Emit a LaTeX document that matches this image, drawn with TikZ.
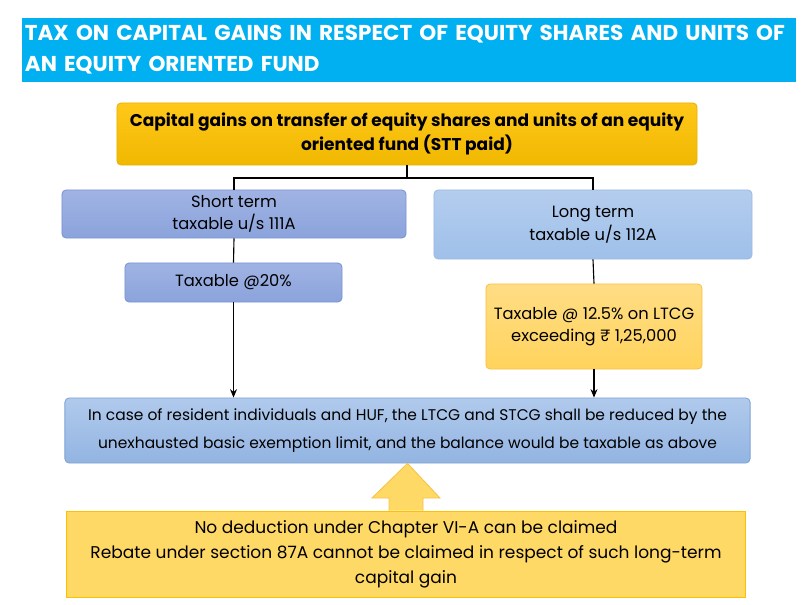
\documentclass[tikz,border=0pt]{standalone}
\usepackage{fontspec}
\setmainfont{Poppins}
\usetikzlibrary{arrows.meta}

\definecolor{banner}{HTML}{00B0F0}
\definecolor{goldtop}{HTML}{FFC81A}
\definecolor{goldbot}{HTML}{F0B800}
\definecolor{goldline}{HTML}{E9B200}
\definecolor{stblue}{HTML}{A0B3E3}
\definecolor{stbluebot}{HTML}{8BA3DC}
\definecolor{stline}{HTML}{7A93D2}
\definecolor{ltblue}{HTML}{B4CDEE}
\definecolor{ltbluebot}{HTML}{9FC0EA}
\definecolor{ltline}{HTML}{9BBBE4}
\definecolor{lightgold}{HTML}{FFDD85}
\definecolor{lightgoldbot}{HTML}{FFD35C}
\definecolor{lightgoldline}{HTML}{F7C244}
\definecolor{infotop}{HTML}{B0CAEC}
\definecolor{infobot}{HTML}{93B4E2}
\definecolor{infoline}{HTML}{7FA3D6}
\definecolor{notefill}{HTML}{FFD966}
\definecolor{noteline}{HTML}{FFC000}

\begin{document}
\begin{tikzpicture}[x=0.025cm, y=-0.025cm,
    every node/.style={font=\fontsize{11.6}{16}\selectfont, align=center, inner sep=0pt},
    box/.style={draw, rounded corners=3pt, line width=0.6pt},
    gold/.style={box, top color=goldtop, bottom color=goldbot, draw=goldline},
    stbox/.style={box, top color=stblue, bottom color=stbluebot, draw=stline},
    ltbox/.style={box, top color=ltblue, bottom color=ltbluebot, draw=ltline},
    lgold/.style={box, top color=lightgold, bottom color=lightgoldbot, draw=lightgoldline},
    info/.style={box, top color=infotop, bottom color=infobot, draw=infoline},
    link/.style={line width=0.8pt},
    arr/.style={link, -{Stealth[length=6pt,width=5pt]}}]
    \useasboundingbox[fill=white] (0,0) rectangle (812,605);

    \node (title) at (409,50) [fill=banner, minimum width=19.35cm, minimum height=1.6cm,
        text width=19.2cm, align=left, text=white,
        font=\fontsize{15.3}{22}\selectfont\bfseries]
        {TAX ON CAPITAL GAINS IN RESPECT OF EQUITY SHARES AND UNITS OF\\AN EQUITY ORIENTED FUND};

    \node (cg) at (407,134) [gold, minimum width=14.5cm, minimum height=1.55cm,
        font=\fontsize{12.1}{16.5}\selectfont\bfseries]
        {Capital gains on transfer of equity shares and units of an equity\\oriented fund (STT paid)};

    \node (st) at (234,214) [stbox, minimum width=8.6cm, minimum height=1.2cm]
        {Short term\\taxable u/s 111A};
    \node (lt) at (593,224.5) [ltbox, minimum width=7.95cm, minimum height=1.725cm]
        {Long term\\taxable u/s 112A};

    \node (st20) at (233.5,282.5) [stbox, minimum width=5.425cm, minimum height=0.975cm]
        {Taxable @20\%};
    \node (ltcg) at (594,326.5) [lgold, minimum width=5.4cm, minimum height=2.125cm]
        {Taxable @ 12.5\% on LTCG\\exceeding ₹ 1,25,000};

    \node (res) at (407.5,430.5) [info, minimum width=17.125cm, minimum height=1.625cm,
        font=\fontsize{11}{20}\selectfont]
        {In case of resident individuals and HUF, the LTCG and STCG shall be reduced by the\\unexhausted basic exemption limit, and the balance would be taxable as above};

    \node (note) at (406,554) [fill=notefill, draw=noteline, line width=0.6pt,
        minimum width=16.95cm, minimum height=2.15cm, font=\fontsize{12.1}{17.7}\selectfont]
        {No deduction under Chapter VI-A can be claimed\\Rebate under section 87A cannot be claimed in respect of such long-term\\capital gain};

    \coordinate (split) at (407,178);
    \draw[link] (cg.south) -- (split) -| (st.north);
    \draw[link] (split) -| (lt.north);
    \draw[link] (st.south) -- (st20.north);
    \draw[link] (lt.south) -- (ltcg.north);

    \draw[arr] (st20.south) -- (st20.south |- res.north);
    \draw[arr] (ltcg.south) -- (ltcg.south |- res.north);

    % block arrow from note up to res
    \draw[fill=notefill, draw=lightgoldline, line width=0.6pt]
        (note.north -| 389,0) -- (389,498) -- (372,498) -- (res.south)
        -- (440,498) -- (423,498) -- (note.north -| 423,0);
\end{tikzpicture}
\end{document}
